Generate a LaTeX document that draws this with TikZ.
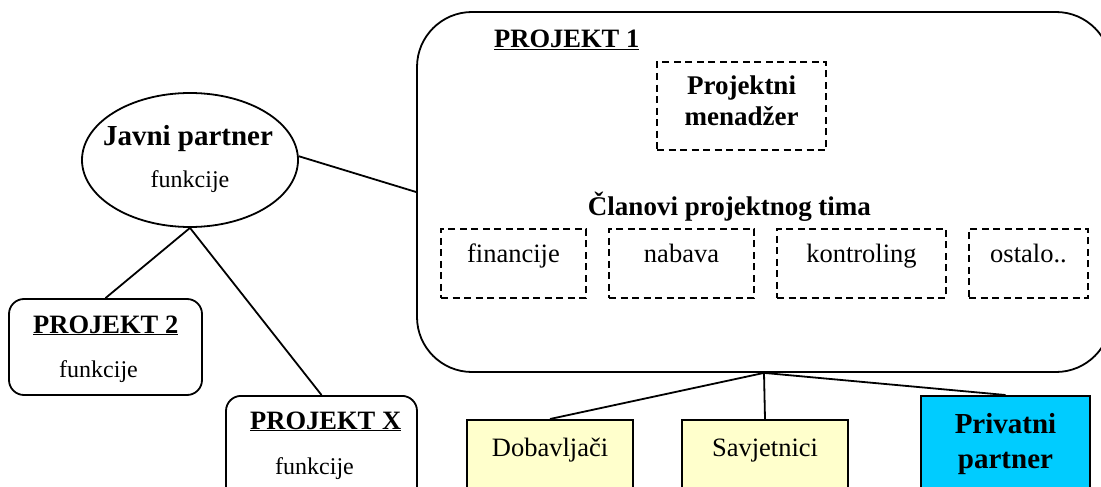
\documentclass[tikz,border=0pt]{standalone}
\usepackage{fontspec}
\setmainfont{Liberation Serif}
\usepackage{xcolor}
\usetikzlibrary{shapes, positioning}

\definecolor{paleyellow}{HTML}{FFFFCC}
\definecolor{skyblue}{HTML}{00CCFF}
\newcommand{\fsz}[1]{\fontsize{#1}{#1}\selectfont}

\tikzset{
  projbox/.style={draw, rounded corners=15pt, minimum width=193pt},
  memberbox/.style={draw, dash pattern=on 7pt off 4.5pt, inner sep=0pt, text height=34pt, text depth=35pt, anchor=north, font=\fsz{26.5}},
  firmbox/.style={draw, inner sep=0pt, anchor=north, font=\fsz{26.5}},
  title/.style={anchor=base west, font=\fsz{26.5}\bfseries},
  fun/.style={anchor=base west, font=\fsz{24}}
}

\begin{document}
\begin{tikzpicture}[x=1pt, y=-1pt, line width=1.8pt]
            \useasboundingbox (0,0) rectangle (1101,487);
            \clip (0,0) rectangle (1101,487);

            % javni partner
            \node[ellipse, draw, minimum width=216pt, minimum height=134pt] (jp) at (190, 160) {};
            \node[anchor=base, font=\fsz{29}\bfseries] (jpname) at (188, 145) {Javni partner};
            \node[anchor=base, font=\fsz{24}] (jpfun) at (190, 187) {funkcije};

            % projekt 1
            \node[draw, rounded corners=55pt, minimum width=694pt, minimum height=360pt] (p1) at (764, 192) {};
            \node[title] (p1name) at (490, 48) {\underline{PROJEKT 1}};
            \node[draw, dash pattern=on 7pt off 4.5pt, minimum width=169pt, minimum height=88pt] (pm) at (741.5, 106) {};
            \node[anchor=base, font=\fsz{27}\bfseries] (pmtop) at (741.5, 95) {Projektni};
            \node[anchor=base, font=\fsz{27}\bfseries] (pmbot) at (741.5, 125) {menadžer};
            \node[anchor=base, font=\fsz{27}\bfseries] (team) at (729.5, 215) {Članovi projektnog tima};
            \node[memberbox, minimum width=145pt] (fin) at (513.5, 228) {financije};
            \node[memberbox, minimum width=145pt] (nab) at (681.5, 228) {nabava};
            \node[memberbox, minimum width=169pt] (kon) at (861.5, 228) {kontroling};
            \node[memberbox, minimum width=119pt] (ost) at (1028.5, 228) {ostalo..};

            % projekt 2 i X
            \node[projbox, minimum height=96pt] (p2) at (105.5, 347) {};
            \node[title] (p2name) at (29, 333) {\underline{PROJEKT 2}};
            \node[fun] (p2fun) at (55, 377) {funkcije};
            \node[projbox, minimum width=191pt, minimum height=110pt, anchor=north] (px) at (321.5, 395) {};
            \node[title] (pxname) at (246, 429) {\underline{PROJEKT X}};
            \node[fun] (pxfun) at (271, 474) {funkcije};

            % vanjski
            \node[firmbox, fill=paleyellow, minimum width=166pt, text height=37pt, text depth=45pt] (dob) at (550, 419) {Dobavljači};
            \node[firmbox, fill=paleyellow, minimum width=166pt, text height=37pt, text depth=45pt] (sav) at (765, 419) {Savjetnici};
            \node[firmbox, fill=skyblue, minimum width=169pt, minimum height=110pt] (pp) at (1005.5, 395) {};
            \node[anchor=base, font=\fsz{29}\bfseries] (pptop) at (1005.5, 433) {Privatni};
            \node[anchor=base, font=\fsz{29}\bfseries] (ppbot) at (1005.5, 468) {partner};

            \draw (jp.2) -- (p1.west);
            \draw (jp.south) -- (p2.north);
            \draw (jp.south) -- (px.north);
            \draw (p1.south) -- (dob.north);
            \draw (p1.south) -- (sav.north);
            \draw (p1.south) -- (pp.north);
        \end{tikzpicture}
\end{document}
